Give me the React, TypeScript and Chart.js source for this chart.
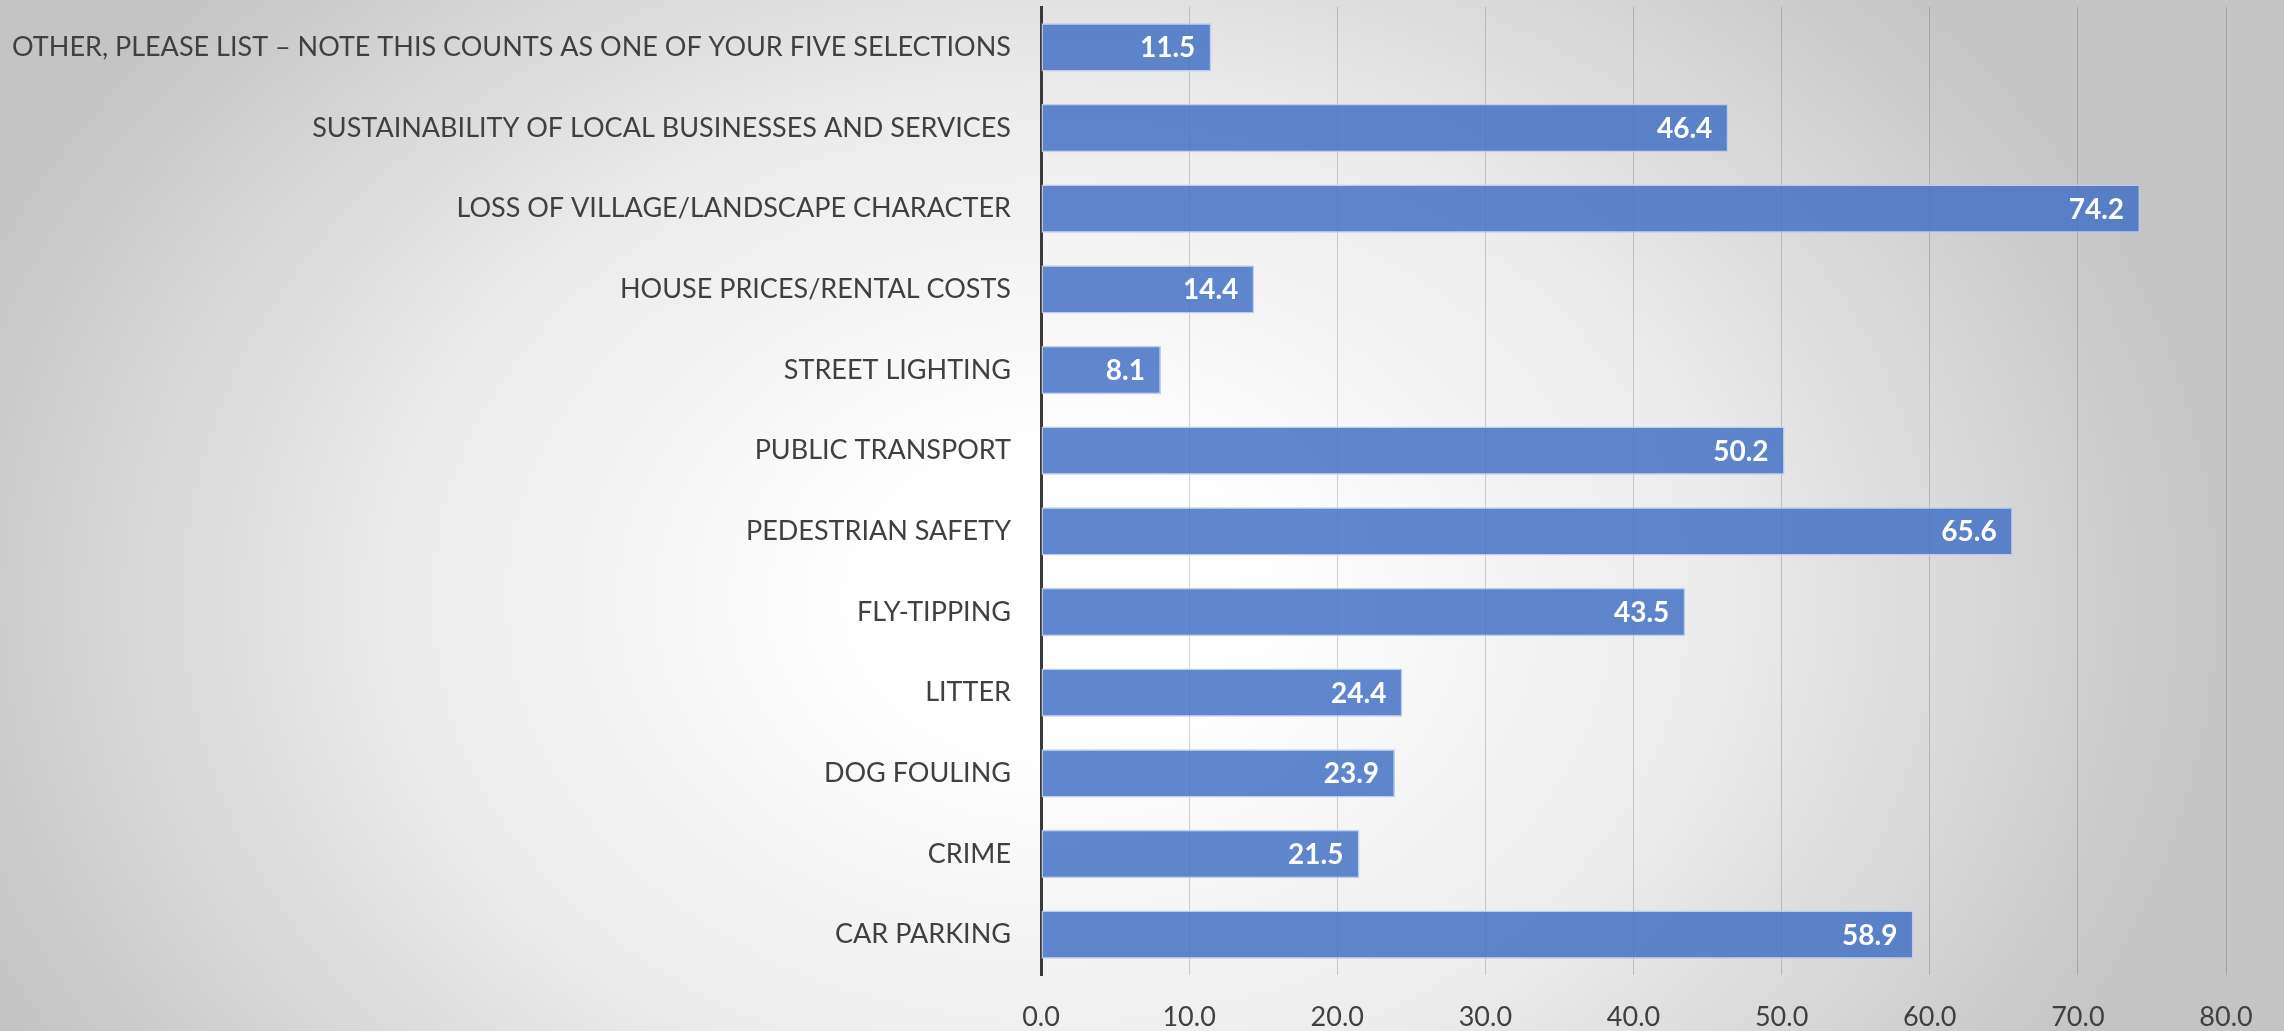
import React, { useEffect, useRef } from "react";
import { Chart, registerables } from "chart.js";

Chart.register(...registerables);

const categories: string[] = [
  "OTHER, PLEASE LIST – NOTE THIS COUNTS AS ONE OF YOUR FIVE SELECTIONS",
  "SUSTAINABILITY OF LOCAL BUSINESSES AND SERVICES",
  "LOSS OF VILLAGE/LANDSCAPE CHARACTER",
  "HOUSE PRICES/RENTAL COSTS",
  "STREET LIGHTING",
  "PUBLIC TRANSPORT",
  "PEDESTRIAN SAFETY",
  "FLY-TIPPING",
  "LITTER",
  "DOG FOULING",
  "CRIME",
  "CAR PARKING",
];

const values: number[] = [11.5, 46.4, 74.2, 14.4, 8.1, 50.2, 65.6, 43.5, 24.4, 23.9, 21.5, 58.9];

const xMin = 0;
const xMax = 80;
const xStep = 10;

const FONT = "Lato, 'Open Sans', sans-serif";

const dataLabelPlugin = {
  id: "dataLabels",
  afterDatasetsDraw(chart: any) {
    const ctx = chart.ctx;
    const meta = chart.getDatasetMeta(0);
    ctx.save();
    ctx.font = `bold 28px ${FONT}`;
    ctx.fillStyle = "#ffffff";
    ctx.textAlign = "right";
    ctx.textBaseline = "middle";
    meta.data.forEach((bar: any, i: number) => {
      const v = chart.data.datasets[0].data[i] as number;
      ctx.fillText(v.toFixed(1), bar.x - 16, bar.y + 1);
    });
    ctx.restore();
  },
};

export default function App() {
  const canvasRef = useRef<HTMLCanvasElement | null>(null);

  useEffect(() => {
    if (!canvasRef.current) return;
    const chart = new Chart(canvasRef.current, {
      type: "bar",
      data: {
        labels: categories,
        datasets: [
          {
            data: values,
            backgroundColor: "rgba(68,114,196,0.85)",
            borderColor: "rgba(185,204,238,0.95)",
            borderWidth: 1.5,
            borderSkipped: false,
            barPercentage: 0.6,
            categoryPercentage: 1,
          },
        ],
      },
      options: {
        indexAxis: "y",
        animation: false,
        responsive: true,
        maintainAspectRatio: false,
        layout: { padding: { top: 7, left: 0, right: 58, bottom: 0 } },
        plugins: {
          legend: { display: false },
          tooltip: { enabled: false },
        },
        scales: {
          x: {
            min: xMin,
            max: xMax,
            ticks: {
              stepSize: xStep,
              padding: 26,
              color: "#404040",
              font: { family: FONT, size: 27 },
              callback: (v: any) => Number(v).toFixed(1),
            },
            grid: {
              drawTicks: false,
              color: "rgba(0,0,0,0.17)",
              lineWidth: 1,
            },
            border: { display: false },
            afterFit: (scale: any) => {
              scale.height = 56;
              scale.paddingLeft = 0;
              scale.paddingRight = 0;
            },
          },
          y: {
            ticks: {
              padding: 30,
              color: "#404040",
              font: { family: FONT, size: 27 },
            },
            grid: { display: false, drawTicks: false },
            border: { display: true, color: "#3a3a3a", width: 3 },
            afterFit: (scale: any) => {
              scale.width = 1041;
              scale.paddingTop = 0;
              scale.paddingBottom = 0;
            },
          },
        },
      },
      plugins: [dataLabelPlugin],
    });
    return () => chart.destroy();
  }, []);

  return (
    <div
      style={{
        position: "fixed",
        left: 0,
        top: 0,
        width: 2284,
        height: 1031,
        background:
          "radial-gradient(ellipse 1180px 900px at 1060px 600px, #ffffff 0%, #ffffff 15%, #ececec 55%, #c4c4c4 100%)",
      }}
    >
      <canvas ref={canvasRef} />
    </div>
  );
}
